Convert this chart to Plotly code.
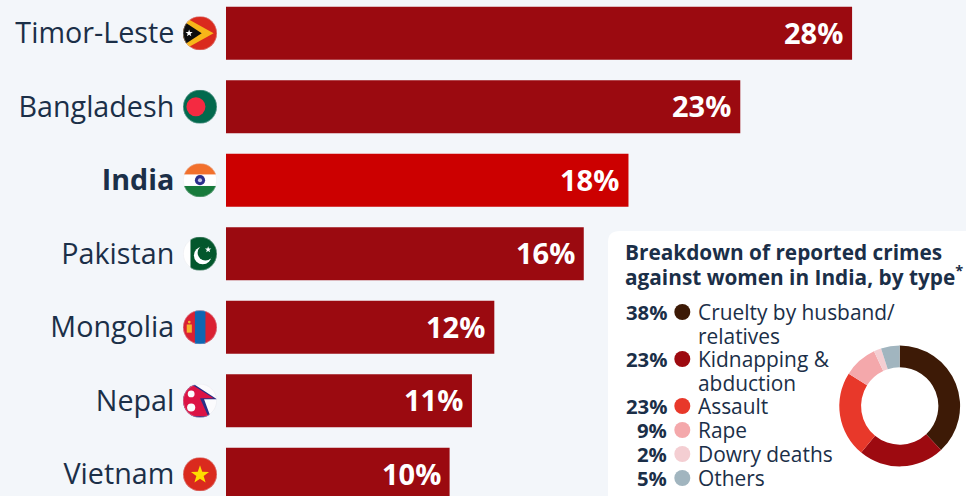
import base64
import math
import plotly.graph_objects as go

W, H = 966, 496
countries = ["Timor-Leste", "Bangladesh", "<b>India</b>", "Pakistan", "Mongolia", "Nepal", "Vietnam"]
shares = [28, 23, 18, 16, 12, 11, 10]
bar_colors = ["#9b0a10", "#9b0a10", "#cc0000", "#9b0a10", "#9b0a10", "#9b0a10", "#9b0a10"]

crime_types = [["Cruelty by husband/", "relatives"], ["Kidnapping &", "abduction"], ["Assault"], ["Rape"], ["Dowry deaths"], ["Others"]]
crime_shares = [38, 23, 23, 9, 2, 5]
crime_colors = ["#3d1a06", "#9d0a10", "#e8382a", "#f4a8ab", "#f4ced2", "#a1b5bf"]
panel_title = ["Breakdown of reported crimes", "against women in India, by type<sup>*</sup>"]

INK = "#1b2f48"
BG = "#f3f6fa"
FONT = "Open Sans"

def star(cx, cy, r, fill):
    pts = []
    for i in range(10):
        rr = r if i % 2 == 0 else r * 0.4
        a = -math.pi / 2 + i * math.pi / 5
        pts.append(f"{cx + rr * math.cos(a):.1f},{cy + rr * math.sin(a):.1f}")
    return f'<polygon points="{" ".join(pts)}" fill="{fill}"/>'

flags = {
    "Timor-Leste": '<rect width="100" height="100" fill="#da2a1e"/><polygon points="0,0 90,50 0,100" fill="#f7b519"/>'
                   '<polygon points="0,14 55,50 0,86" fill="#0d0d0d"/>' + star(18, 50, 11, "#fff"),
    "Bangladesh": '<rect width="100" height="100" fill="#02694d"/><circle cx="38" cy="50" r="28" fill="#f42a41"/>',
    "India": '<rect width="100" height="100" fill="#fff"/><rect width="100" height="33" fill="#f2702c"/>'
             '<rect y="67" width="100" height="33" fill="#177a3b"/><circle cx="50" cy="50" r="15" fill="#2c2f8c"/>'
             '<circle cx="50" cy="50" r="6" fill="#c9cbea"/>',
    "Pakistan": '<rect width="100" height="100" fill="#fff"/><rect x="22" width="78" height="100" fill="#03572c"/>'
                '<circle cx="58" cy="55" r="26" fill="#fff"/><circle cx="66" cy="47" r="23" fill="#03572c"/>'
                + star(74, 38, 10, "#fff"),
    "Mongolia": '<rect width="100" height="100" fill="#da2032"/><rect x="35" width="31" height="100" fill="#0f66b2"/>'
                '<rect x="11" y="42" width="15" height="24" fill="#f4b42c"/><circle cx="18.5" cy="35" r="4" fill="#f4b42c"/>',
    "Nepal": '<rect width="100" height="100" fill="#fbfbfd"/><polygon points="0,0 30,0 100,46 62,46 82,100 0,100" fill="#2a2f86"/>'
             '<polygon points="0,5 30,5 90,43 50,43 74,96 0,96" fill="#dc1345"/><circle cx="24" cy="30" r="10" fill="#fbfbfd"/>'
             '<circle cx="24" cy="70" r="12" fill="#fbfbfd"/>',
    "Vietnam": '<rect width="100" height="100" fill="#da2a1e"/>' + star(50, 52, 28, "#fedc00"),
}

def flag_uri(body):
    svg = ('<svg xmlns="http://www.w3.org/2000/svg" viewBox="0 0 100 100" width="200" height="200">'
           '<defs><clipPath id="c"><circle cx="50" cy="50" r="50"/></clipPath></defs>'
           f'<g clip-path="url(#c)">{body}</g><circle cx="50" cy="50" r="49" fill="none" stroke="#d9dee6" stroke-width="1.5" opacity="0.7"/></svg>')
    return "data:image/svg+xml;base64," + base64.b64encode(svg.encode()).decode()

def px(x):
    return x / W

def py(y):
    return 1 - y / H

X0, UNIT = 226, 22.36
Y0, STEP, BAR_H = 33.2, 73.5, 53
ys = list(range(len(countries)))

fig = go.Figure()
fig.add_trace(go.Bar(
    x=shares, y=ys, orientation="h", width=BAR_H / STEP,
    marker=dict(color=bar_colors, line=dict(width=0)), hoverinfo="skip", showlegend=False,
))
C = (899.7, 406.0)
R = 60.4
fig.add_trace(go.Pie(
    values=crime_shares, sort=False, direction="clockwise", rotation=0, hole=0.64,
    marker=dict(colors=crime_colors, line=dict(width=0)), textinfo="none", hoverinfo="skip", showlegend=False,
    domain=dict(x=[px(C[0] - R), px(C[0] + R)], y=[py(C[1] + R), py(C[1] - R)]),
))

ann = []
for v, y in zip(shares, ys):
    ann.append(dict(x=v, y=y, xref="x", yref="y", text=f"<b>{v}%</b>", showarrow=False, xanchor="right",
                    xshift=-7, yshift=1, font=dict(family=FONT, size=29, color="white")))

for line, y in zip(panel_title, [252, 275]):
    ann.append(dict(x=px(623), y=py(y), xref="paper", yref="paper", xanchor="left", yanchor="middle", align="left",
                    showarrow=False, text=f"<b>{line}</b>", font=dict(family=FONT, size=20.8, color=INK)))

row_y = [312, 359, 406, 430, 454, 478]
line_h = 23.6
TXT = 20.9
shapes = [dict(type="path", xref="paper", yref="paper", layer="below", line=dict(width=0), fillcolor="white",
               path=f"M {px(608)} {py(516)} L {px(608)} {py(242)} Q {px(608)} {py(231)} {px(620)} {py(231)} "
                    f"L {px(990)} {py(231)} L {px(990)} {py(516)} Z")]
for lines, val, col, y in zip(crime_types, crime_shares, crime_colors, row_y):
    ann.append(dict(x=px(668.5), y=py(y), xref="paper", yref="paper", xanchor="right", yanchor="middle", showarrow=False,
                    text=f"<b>{val}%</b>", font=dict(family=FONT, size=20.3, color=INK)))
    for k, line in enumerate(lines):
        ann.append(dict(x=px(695.5), y=py(y + k * line_h), xref="paper", yref="paper", xanchor="left",
                        yanchor="middle", align="left", showarrow=False, text=line,
                        font=dict(family=FONT, size=TXT, color=INK)))
    shapes.append(dict(type="circle", xref="paper", yref="paper", fillcolor=col, line=dict(width=0),
                       x0=px(682.3 - 8), x1=px(682.3 + 8), y0=py(y + 8), y1=py(y - 8)))

images = []
for key, y in zip(flags, ys):
    cy = Y0 + STEP * y
    images.append(dict(source=flag_uri(flags[key]), xref="paper", yref="paper", x=px(200 - 17), y=py(cy - 17),
                       sizex=34 / W, sizey=34 / H, xanchor="left", yanchor="top", layer="above", sizing="stretch"))

fig.update_layout(
    width=W, height=H, margin=dict(l=0, r=0, t=0, b=0), paper_bgcolor=BG, plot_bgcolor="rgba(0,0,0,0)",
    font=dict(family=FONT, color=INK),
    xaxis=dict(domain=[X0 / W, 1], range=[0, (W - X0) / UNIT], visible=False, fixedrange=True),
    yaxis=dict(range=[(H - Y0) / STEP, -Y0 / STEP], tickmode="array", tickvals=ys, ticktext=countries,
               ticks="outside", ticklen=45, tickcolor="rgba(0,0,0,0)", showline=False, showgrid=False, zeroline=False,
               tickfont=dict(family=FONT, size=28.7, color=INK), fixedrange=True),
    annotations=ann, shapes=shapes, images=images,
)
fig.write_html("out.html", config=dict(displayModeBar=False),
               post_script="document.body.style.margin='0';document.body.style.overflow='hidden';")
